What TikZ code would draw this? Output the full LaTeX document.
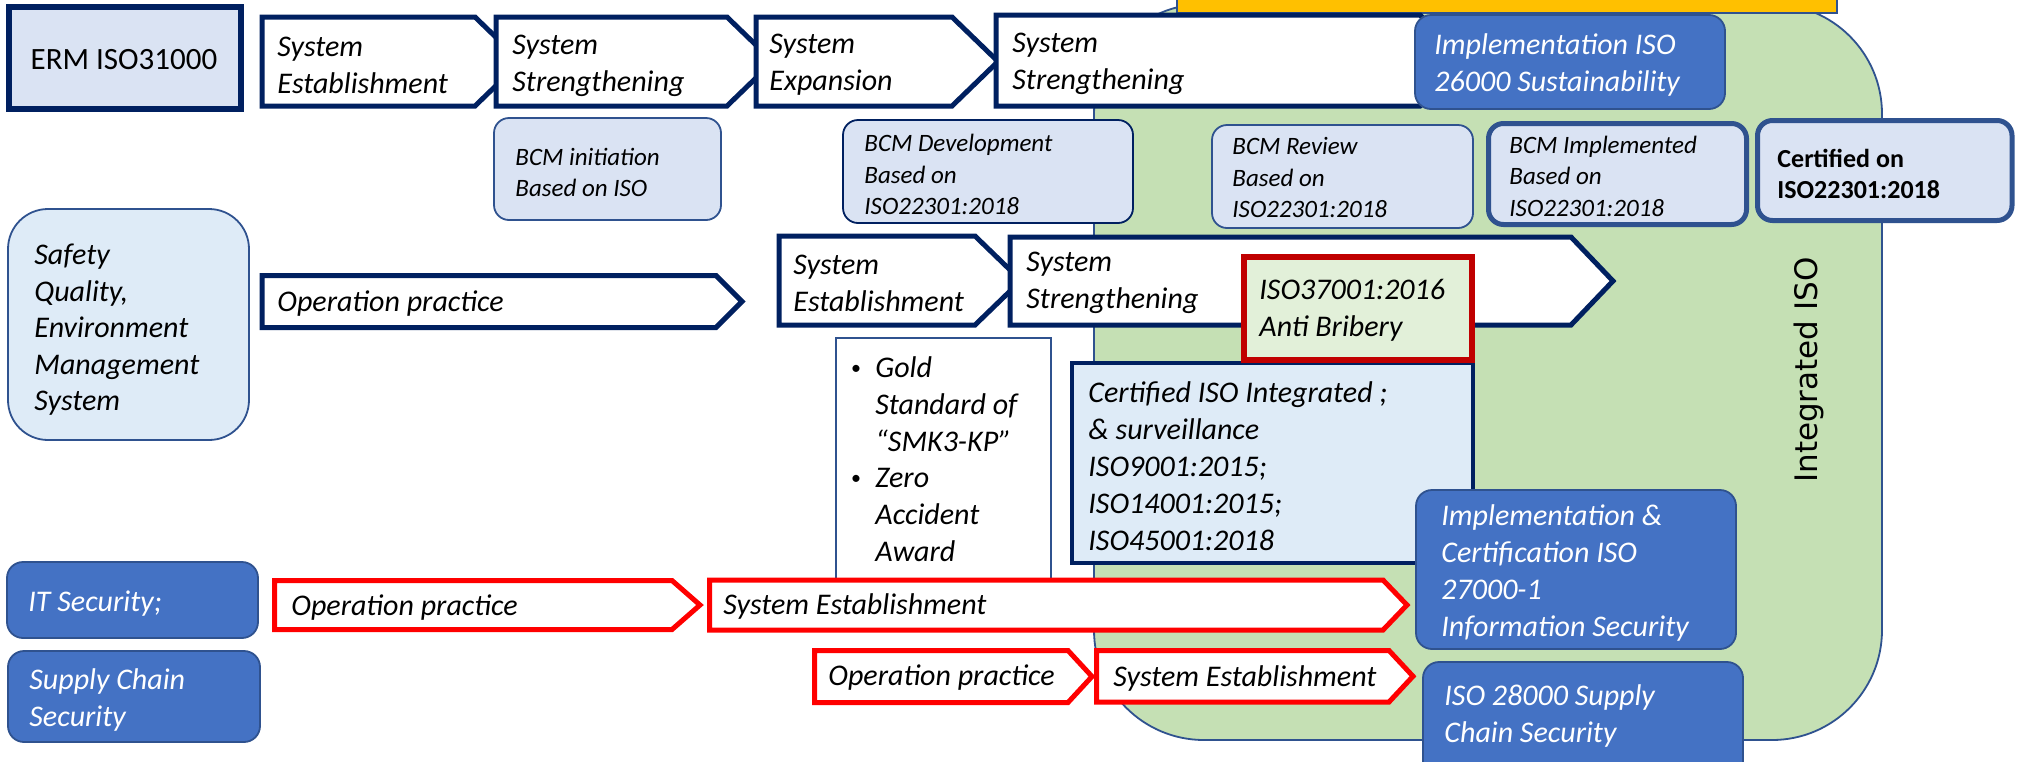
\documentclass[tikz,border=0pt]{standalone}
\usepackage{fontspec}
\setmainfont{Carlito}
\newfontfamily\gothic{DejaVu Sans}
\definecolor{navy}{HTML}{002060}
\definecolor{bord}{HTML}{2F528F}
\definecolor{lblue}{HTML}{DAE3F3}
\definecolor{lbluetwo}{HTML}{DEEBF7}
\definecolor{mblue}{HTML}{4472C4}
\definecolor{lgreen}{HTML}{C5E0B4}
\definecolor{pgreen}{HTML}{E2F0D9}
\definecolor{gold}{HTML}{FFC000}
\definecolor{dred}{HTML}{C00000}
\definecolor{bred}{HTML}{FF0000}
\newcommand{\homeplate}[6]{%
  \draw[#1] (#2,#3) -- (#4,#3) -- (#5,{(#3+#6)/2}) -- (#4,#6) -- (#2,#6) -- cycle;}
\tikzset{
  navyarrow/.style={draw=navy, line width=2.5pt, fill=white},
  redarrow/.style={draw=bred, line width=2.5pt, fill=white},
  lab/.style={font=\fontsize{15}{18.5}\selectfont\itshape, inner sep=0pt, align=left, anchor=west},
  smalllab/.style={font=\fontsize{12.5}{15.75}\selectfont\itshape, inner sep=0pt, align=left, anchor=west},
  whitelab/.style={lab, text=white},
  bulletdot/.style={font=\fontsize{10}{12}\selectfont, inner sep=0pt},
  bcmbox/.style={draw=bord, line width=0.9pt, fill=lblue, rounded corners=7.5pt},
  bluebox/.style={draw=bord, line width=0.9pt, fill=mblue, rounded corners=8pt},
}
\begin{document}
\begin{tikzpicture}[x=0.5pt, y=-0.5pt]
\useasboundingbox (0,0) rectangle (2017,761);
\clip (0,0) rectangle (2017,761);
\fill[white] (0,0) rectangle (2017,761);
% green integrated region and yellow banner
\draw[draw=bord, line width=0.9pt, fill=lgreen, rounded corners=55pt] (1094,4) rectangle (1882,740);
\draw[draw=bord, line width=1pt, fill=gold] (1177,-20) rectangle (1837,13);
% row 1
\draw[draw=navy, line width=3pt, fill=lblue] (9,7) rectangle (241,109);
\node[font=\fontsize{15.5}{18}\selectfont, inner sep=0pt] (erm) at (124,60) {ERM ISO31000};
\homeplate{navyarrow}{262}{17}{475}{521}{106}
\homeplate{navyarrow}{496}{17}{727}{773}{106}
\homeplate{navyarrow}{756}{17}{952}{998}{106}
\homeplate{navyarrow}{996}{15}{1420}{1466}{106}
\node[lab] (a1) at (277,65) {System\\Establishment};
\node[lab] (a2) at (512,66) {System\\Strengthening};
\node[lab] (a3) at (769,64.5) {System\\Expansion};
\node[lab] (a4) at (1012,63.5) {System\\Strengthening};
\draw[bluebox] (1415,15) rectangle (1725,109);
\node[whitelab] (iso26) at (1434,65) {Implementation ISO\\26000 Sustainability};
% row 2
\draw[bcmbox] (494,118) rectangle (721,220);
\node[smalllab] (bcm1) at (515,172.5) {BCM initiation\\Based on ISO};
\draw[bcmbox, draw=navy] (843,120) rectangle (1133,223);
\node[smalllab] (bcm2) at (864,174.5) {BCM Development\\Based on\\ISO22301:2018};
\draw[bcmbox] (1212,125) rectangle (1473,228);
\node[smalllab] (bcm3) at (1232,177.5) {BCM Review\\Based on\\ISO22301:2018};
\draw[bcmbox, line width=2.5pt] (1488.5,123.5) rectangle (1746.5,224.5);
\node[smalllab] (bcm4) at (1509,176) {BCM Implemented\\Based on\\ISO22301:2018};
\draw[bcmbox, line width=2.5pt] (1757.5,120.5) rectangle (2012,220.5);
\node[smalllab, font=\fontsize{13}{15.5}\selectfont\bfseries] (bcm5) at (1777,173.5) {Certified on\\ISO22301:2018};
% row 3
\draw[draw=bord, line width=0.9pt, fill=lbluetwo, rounded corners=20pt] (8,209) rectangle (249,440);
\node[lab, font=\fontsize{15}{18.25}\selectfont\itshape] (sqe) at (34,330) {Safety\\Quality,\\Environment\\Management\\System};
\homeplate{navyarrow}{262}{275.5}{716}{742}{327.5}
\node[lab] (op1) at (277,304) {Operation practice};
\homeplate{navyarrow}{779}{236}{975}{1021}{325}
\node[lab] (se3) at (793,283) {System\\Establishment};
\homeplate{navyarrow}{1010}{237}{1571}{1613}{325}
\node[lab] (ss3) at (1026,283) {System\\Strengthening};
\draw[draw=bord, line width=0.9pt, fill=white] (836,338) rectangle (1051,620);
\node[bulletdot] (bul1) at (856,370) {•};
\node[lab] (gold) at (875,404.5) {Gold\\Standard of\\“SMK3-KP”};
\node[bulletdot] (bul2) at (856,480) {•};
\node[lab] (zero) at (875,515) {Zero\\Accident\\Award};
\draw[draw=navy, line width=2pt, fill=lbluetwo] (1072,363) rectangle (1473,563);
\node[lab] (cert) at (1088,466) {Certified ISO Integrated ;\\\& surveillance\\ISO9001:2015;\\ISO14001:2015;\\ISO45001:2018};
\draw[draw=dred, line width=3pt, fill=pgreen] (1244,257) rectangle (1472,360);
\node[lab] (brib) at (1259,310.5) {ISO37001:2016\\Anti Bribery};
\draw[bluebox] (1416,490) rectangle (1736,649);
\node[whitelab] (iso27) at (1441,573) {Implementation \&\\Certification ISO\\27000-1\\Information Security};
\node[rotate=90, font=\gothic\fontsize{15.5}{18}\selectfont, inner sep=0pt] (integ) at (1809,370) {Integrated ISO};
% row 4
\draw[bluebox] (7,562) rectangle (258,638);
\node[whitelab] (its) at (28,604) {IT Security;};
\homeplate{redarrow}{274.5}{580.5}{672}{700}{629.5}
\node[lab] (op4) at (291,608) {Operation practice};
\homeplate{redarrow}{709.5}{580}{1383}{1407}{630}
\node[lab] (se4) at (723,606) {System Establishment};
% row 5
\draw[bluebox] (8,651) rectangle (260,742);
\node[whitelab] (scs) at (29,700) {Supply Chain\\Security};
\homeplate{redarrow}{814.5}{650.5}{1068}{1092}{702.5}
\node[lab] (op5) at (828,678) {Operation practice};
\homeplate{redarrow}{1096.5}{650.5}{1389}{1413}{702}
\node[lab] (se5) at (1113,678) {System Establishment};
\draw[bluebox] (1423,662) rectangle (1743,790);
\node[whitelab] (iso28) at (1444,716) {ISO 28000 Supply\\Chain Security};
\end{tikzpicture}
\end{document}
